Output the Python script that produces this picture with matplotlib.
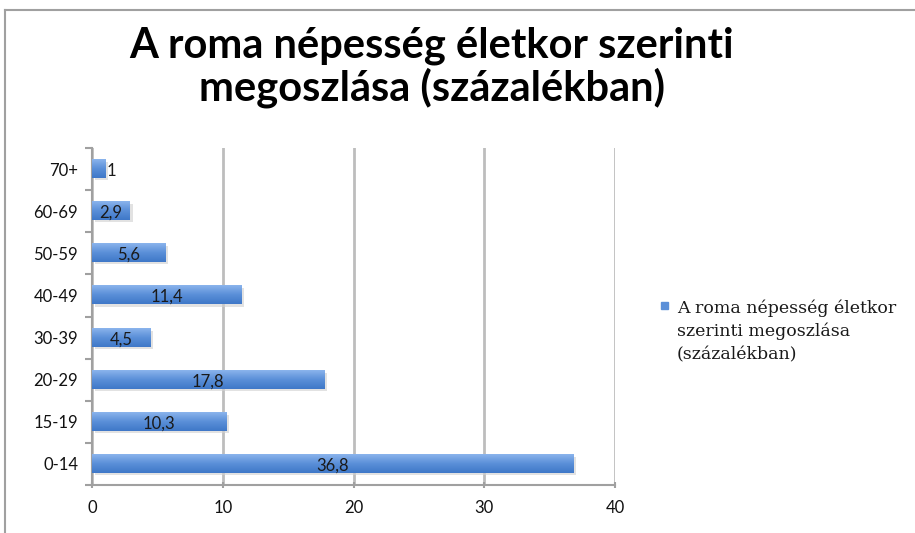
import matplotlib
matplotlib.use("Agg")
import matplotlib.pyplot as plt
import numpy as np
from matplotlib.lines import Line2D
from matplotlib.patches import Rectangle
from matplotlib.colors import LinearSegmentedColormap

categories = ["0-14", "15-19", "20-29", "30-39", "40-49", "50-59", "60-69", "70+"]
values = [36.8, 10.3, 17.8, 4.5, 11.4, 5.6, 2.9, 1]
value_labels = ["36,8", "10,3", "17,8", "4,5", "11,4", "5,6", "2,9", "1"]
x_ticks = [0, 10, 20, 30, 40]
title = "A roma népesség életkor szerinti\nmegoszlása (százalékban)"
series_name = "A roma népesség életkor\nszerinti megoszlása\n(százalékban)"

W, H = 915, 533
fig = plt.figure(figsize=(W / 100, H / 100), dpi=100)
fig.patch.set_facecolor("white")

# outer chart frame (top and left edges visible)
fig.add_artist(Line2D([5 / W, 1], [1 - 10 / H, 1 - 10 / H], color="#a0a0a0", lw=1.5))
fig.add_artist(Line2D([5 / W, 5 / W], [0, 1 - 10 / H], color="#a0a0a0", lw=1.5))

ax = fig.add_axes([92 / W, 1 - 485 / H, 523 / W, 337 / H])
pos = list(range(len(categories)))
bar_color = "#5a8fd8"
bar_h = 0.43
grad = LinearSegmentedColormap.from_list("g", ["#3f78c8", "#5a8fd8", "#8ab4ec"])

# subtle shadow
ax.barh([p - 0.05 for p in pos], values, height=bar_h, left=0.2, color="#d0d0d0", alpha=0.6, zorder=2)
bars = ax.barh(pos, values, height=bar_h, color=bar_color, zorder=3)
gradient = np.linspace(0, 1, 64).reshape(-1, 1)
for b in bars:
    x0, y0, w, h = b.get_x(), b.get_y(), b.get_width(), b.get_height()
    ax.imshow(gradient, cmap=grad, aspect="auto", origin="lower",
              extent=[x0, x0 + w, y0, y0 + h], zorder=3.5)

ax.set_xlim(0, 40)
ax.set_ylim(-0.5, len(categories) - 0.5)
ax.set_aspect("auto")
ax.set_xticks(x_ticks)
ax.set_xticklabels([str(t) for t in x_ticks], fontsize=12, family="Lato", color="#111111")
ax.set_yticks(pos)
ax.set_yticklabels(categories, fontsize=12, family="Lato", color="#111111")
ax.set_yticks([p + 0.5 for p in pos[:-1]] + [-0.5, len(categories) - 0.5], minor=True)
ax.tick_params(axis="y", which="major", length=0, pad=10)
ax.tick_params(axis="y", which="minor", length=5, color="#a0a0a0", width=1.5)
ax.tick_params(axis="x", which="major", length=5, color="#a0a0a0", width=1.5, direction="inout", pad=8)
ax.grid(axis="x", color="#bdbdbd", lw=2, zorder=0)
for s in ["top", "right"]:
    ax.spines[s].set_visible(False)
for s in ["left", "bottom"]:
    ax.spines[s].set_color("#a0a0a0")
    ax.spines[s].set_linewidth(1.5)

for p, v, lab in zip(pos, values, value_labels):
    if v < 2:
        ax.text(v + 0.1, p - 0.04, lab, ha="left", va="center", fontsize=12, family="Lato", color="#1a1a1a", zorder=5)
    else:
        ax.text(v / 2, p - 0.04, lab, ha="center", va="center", fontsize=12, family="Lato", color="#1a1a1a", zorder=5)

fig.text(432 / W, 1 - 67 / H, title, ha="center", va="center", fontsize=30, fontweight="bold",
         family="Lato", linespacing=1.08)

# legend
fig.add_artist(Rectangle((661 / W, 1 - 309 / H), 7 / W, 7 / H, color=bar_color))
fig.text(677 / W, 1 - 331 / H, series_name, ha="left", va="center", fontsize=12.5,
         family="DejaVu Serif", linespacing=1.45, color="#1a1a1a")

fig.savefig("out.png", dpi=100)
